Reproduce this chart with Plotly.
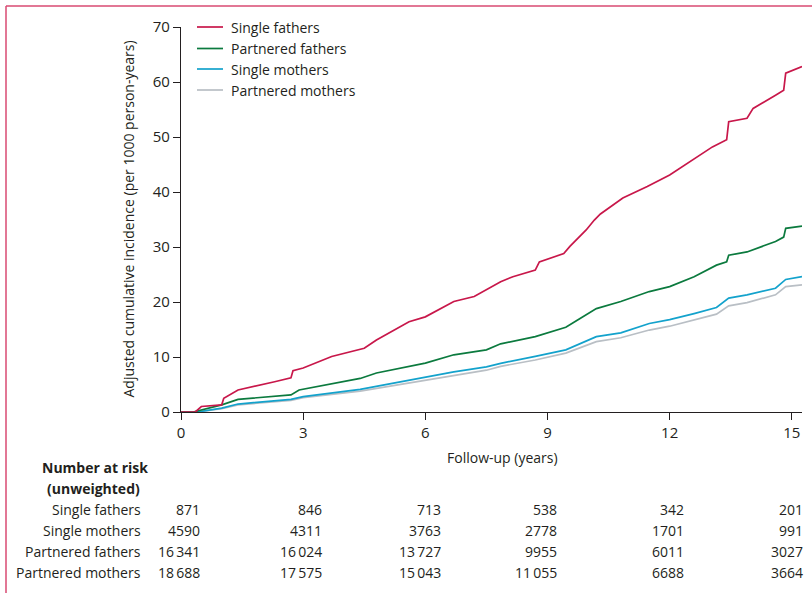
import plotly.graph_objects as go

# ---- data ----
series_names = ["Single fathers", "Partnered fathers", "Single mothers", "Partnered mothers"]
series_colors = ["#c8174a", "#0b7a3e", "#13a2cc", "#b9bfc5"]

t_sf = [0, 0.35, 0.5, 1.0, 1.05, 1.4, 2.3, 2.7, 2.75, 3.0, 3.7, 4.5, 4.8, 5.6, 6.0, 6.7, 7.2, 7.5,
        7.85, 8.15, 8.7, 8.8, 9.4, 9.55, 9.95, 10.15, 10.3, 10.85, 11.45, 12.0, 12.5, 13.05, 13.4,
        13.45, 13.9, 14.05, 14.6, 14.8, 14.85, 15.0, 15.25]
v_sf = [0, 0, 1.0, 1.3, 2.5, 4.0, 5.5, 6.2, 7.5, 8.0, 10.1, 11.6, 13.1, 16.4, 17.3, 20.1, 21.0, 22.2,
        23.7, 24.6, 25.8, 27.3, 28.8, 30.1, 33.1, 34.9, 36.0, 38.9, 41.0, 43.1, 45.5, 48.2, 49.5,
        52.8, 53.4, 55.2, 57.6, 58.5, 61.6, 62.0, 62.8]

t_pf = [0, 0.3, 1.0, 1.4, 2.7, 2.9, 4.4, 4.8, 6.0, 6.7, 7.5, 7.85, 8.7, 9.45, 9.8, 10.2, 10.8, 11.5,
        12.0, 12.6, 13.15, 13.4, 13.45, 13.9, 14.6, 14.8, 14.85, 15.25]
v_pf = [0, 0, 1.3, 2.3, 3.1, 4.0, 6.1, 7.1, 8.9, 10.4, 11.3, 12.4, 13.7, 15.4, 17.0, 18.8, 20.1, 21.9,
        22.8, 24.6, 26.7, 27.3, 28.5, 29.1, 31.0, 31.8, 33.4, 33.8]

t_sm = [0, 0.4, 1.0, 1.4, 2.7, 3.0, 4.4, 6.0, 6.7, 7.5, 7.85, 8.7, 9.45, 10.2, 10.8, 11.5, 12.0,
        12.6, 13.15, 13.45, 13.9, 14.6, 14.85, 15.25]
v_sm = [0, 0, 0.7, 1.45, 2.3, 2.8, 4.1, 6.3, 7.3, 8.2, 8.85, 10.1, 11.3, 13.7, 14.4, 16.1, 16.8,
        17.9, 19.0, 20.7, 21.3, 22.5, 24.1, 24.6]

t_pm = [0, 0.4, 1.0, 1.4, 2.7, 3.0, 4.4, 6.0, 6.7, 7.5, 7.85, 8.7, 9.45, 10.2, 10.8, 11.5, 12.0,
        12.6, 13.15, 13.45, 13.9, 14.6, 14.85, 15.25]
v_pm = [0, 0, 0.6, 1.3, 2.1, 2.6, 3.8, 5.8, 6.7, 7.6, 8.3, 9.45, 10.7, 12.8, 13.5, 14.9, 15.6,
        16.7, 17.8, 19.3, 19.9, 21.3, 22.8, 23.1]

x_ticks = [0, 3, 6, 9, 12, 15]
y_ticks = [0, 10, 20, 30, 40, 50, 60, 70]

risk_rows = ["Single fathers", "Single mothers", "Partnered fathers", "Partnered mothers"]
risk_sf = [871, 846, 713, 538, 342, 201]
risk_sm = [4590, 4311, 3763, 2778, 1701, 991]
risk_pf = [16341, 16024, 13727, 9955, 6011, 3027]
risk_pm = [18688, 17575, 15043, 11055, 6688, 3664]

# ---- figure ----
FONT = "Open Sans"
INK = "#231f20"

W, H = 812, 593
L, R, T, B = 181, 10, 27, 181
pw = W - L - R
ph = H - T - B

def px(xp):
    return (xp - L) / pw

def py(yp):
    return (H - B - yp) / ph

fig = go.Figure()
curves = [(t_pm, v_pm, 3), (t_sm, v_sm, 2), (t_pf, v_pf, 1), (t_sf, v_sf, 0)]
for tt, vv, i in curves:
    fig.add_trace(go.Scatter(x=tt, y=vv, mode="lines", name=series_names[i],
                             line=dict(color=series_colors[i], width=1.7),
                             showlegend=False, hoverinfo="skip"))

fig.update_layout(
    width=W, height=H,
    margin=dict(l=L, r=R, t=T, b=B, pad=0),
    paper_bgcolor="white", plot_bgcolor="white",
    font=dict(family=FONT, color=INK, size=14),
    showlegend=False,
)
fig.update_xaxes(range=[0, 15.25], tickvals=x_ticks, ticktext=[str(v) for v in x_ticks],
                 showgrid=False, zeroline=False, showline=True, linecolor=INK, linewidth=1.4,
                 ticks="outside", ticklen=7, tickwidth=1.3, tickcolor=INK,
                 tickfont=dict(size=15, family=FONT, color=INK))
fig.update_yaxes(range=[0, 70], tickvals=y_ticks, ticktext=[str(v) for v in y_ticks],
                 showgrid=False, zeroline=False, showline=True, linecolor=INK, linewidth=1.4,
                 ticks="outside", ticklen=7, tickwidth=1.3, tickcolor=INK,
                 tickfont=dict(size=15, family=FONT, color=INK))

shapes = []
annotations = []

# manual legend
legend_rows_y = [27, 48.5, 69, 90]
for i, name in enumerate(series_names):
    yy = py(legend_rows_y[i])
    shapes.append(dict(type="line", xref="paper", yref="paper", x0=px(197), x1=px(223),
                       y0=yy, y1=yy, line=dict(color=series_colors[i], width=1.7)))
    annotations.append(dict(xref="paper", yref="paper", x=px(229), y=yy, text=name,
                            showarrow=False, xanchor="left", yanchor="middle",
                            font=dict(size=14, family=FONT, color=INK)))

# axis titles
annotations.append(dict(xref="paper", yref="paper", x=px(128), y=0.5,
                        text="Adjusted cumulative incidence (per 1000 person-years)",
                        textangle=-90, showarrow=False, xanchor="center", yanchor="middle",
                        font=dict(size=14, family=FONT, color=INK)))
annotations.append(dict(xref="paper", yref="paper", x=px(502), y=py(457),
                        text="Follow-up (years)", showarrow=False,
                        xanchor="center", yanchor="middle",
                        font=dict(size=14, family=FONT, color=INK)))

# number at risk table
annotations.append(dict(xref="paper", yref="paper", x=px(40), y=py(467),
                        text="<b>Number at risk</b>", showarrow=False,
                        xanchor="left", yanchor="middle",
                        font=dict(size=14, family=FONT, color=INK)))
annotations.append(dict(xref="paper", yref="paper", x=px(45), y=py(488),
                        text="<b>(unweighted)</b>", showarrow=False,
                        xanchor="left", yanchor="middle",
                        font=dict(size=14, family=FONT, color=INK)))

def fmt(n):
    s = str(n)
    if n >= 10000:
        s = s[:-3] + "\u2009" + s[-3:]
    return s

row_y = [509.5, 530.5, 551, 572]
col_shift = [21, 21, 18, 12, 16, 13]
for r, (label, vals) in enumerate(zip(risk_rows, [risk_sf, risk_sm, risk_pf, risk_pm])):
    yy = py(row_y[r])
    annotations.append(dict(xref="paper", yref="paper", x=px(143), y=yy, text=label,
                            showarrow=False, xanchor="right", yanchor="middle",
                            font=dict(size=14, family=FONT, color=INK)))
    for c, v in enumerate(vals):
        annotations.append(dict(xref="x", yref="paper", x=x_ticks[c], y=yy, text=fmt(v),
                                xshift=col_shift[c], showarrow=False,
                                xanchor="right", yanchor="middle",
                                font=dict(size=14, family=FONT, color=INK)))

# frame (pink rule at top and left)
shapes.append(dict(type="line", xref="paper", yref="paper", x0=px(6), x1=px(830),
                   y0=py(6), y1=py(6), line=dict(color="#d84a72", width=1.5)))
shapes.append(dict(type="line", xref="paper", yref="paper", x0=px(6), x1=px(6),
                   y0=py(6), y1=py(620), line=dict(color="#d84a72", width=1.5)))

fig.update_layout(shapes=shapes, annotations=annotations)
fig.write_html("out.html")
